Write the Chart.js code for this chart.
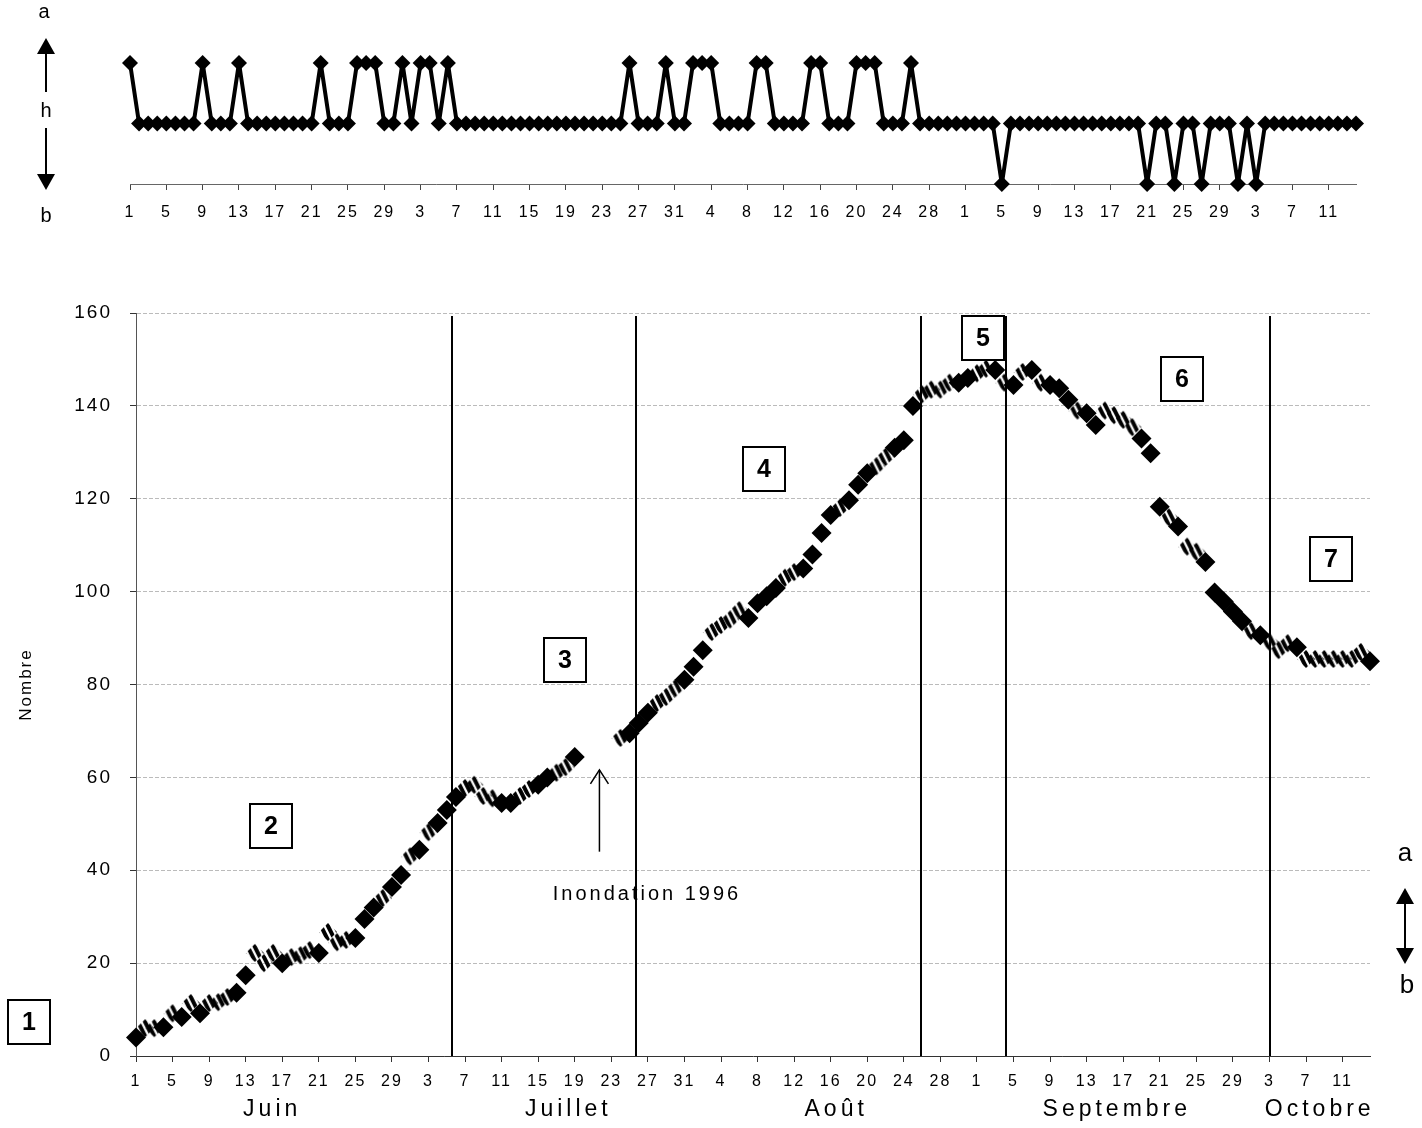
<!DOCTYPE html>
<html>
<head>
<meta charset="utf-8">
<script src="https://cdn.jsdelivr.net/npm/chart.js@4/dist/chart.umd.min.js"></script>
<style>
html, body { margin: 0; padding: 0; background: #fff; }
#wrap { position: relative; width: 1422px; height: 1128px; }
canvas { position: absolute; left: 0; top: 0; }
</style>
</head>
<body>
<div id="wrap">
  <canvas id="bas" width="1422" height="1128"></canvas>
  <canvas id="haut" width="1422" height="240"></canvas>
</div>
<script>
// jours : index 0 = 1 juin ... 135 = 14 octobre
var tickLabels = ['1','5','9','13','17','21','25','29','3','7','11','15','19','23','27','31',
                  '4','8','12','16','20','24','28','1','5','9','13','17','21','25','29','3','7','11'];
var mois = ['Juin', 'Juillet', 'Août', 'Septembre', 'Octobre'];

// etat journalier : 1 = a, 0 = h, -1 = b
var etat = [
  1,0,0,0,0,0,0,0,1,0,
  0,0,1,0,0,0,0,0,0,0,
  0,1,0,0,0,1,1,1,0,0,
  1,0,1,1,0,1,0,0,0,0,
  0,0,0,0,0,0,0,0,0,0,
  0,0,0,0,0,1,0,0,0,1,
  0,0,1,1,1,0,0,0,0,1,
  1,0,0,0,0,1,1,0,0,0,
  1,1,1,0,0,0,1,0,0,0,
  0,0,0,0,0,0,-1,0,0,0,
  0,0,0,0,0,0,0,0,0,0,
  0,0,-1,0,0,-1,0,0,-1,0,
  0,0,-1,0,-1,0,0,0,0,0,
  0,0,0,0,0,0
];

// nombre journalier
var nombre = [
  4, 6, 6, 6.2, 9.2, 8.4, 11.4, 9.2, 11.4, 11.6,
  12.7, 13.6, 17.4, 22.2, 20, 22.2, 20, 21.3, 21.7, 22.8,
  22.2, 26.7, 24.5, 25, 25.4, 29.5, 32, 34, 36.4, 39,
  43, 44.4, 48.2, 50.2, 53, 55.8, 57.7, 58.4, 56, 55.5,
  54.5, 54.5, 56, 57.5, 58.4, 60, 61, 62.2, 64.4, null,
  null, null, null, 68.5, 69.5, 71.7, 73.9, 76, 77.3, 79.2,
  81, 83.8, 87.4, 91.3, 92.8, 94, 96, 94.3, 97.5, 99,
  100.8, 103, 104.2, 105, 108, 112.6, 116.5, 118, 119.7, 123,
  125.5, 127, 129, 131, 132.6, 140, 142.5, 143.5, 143.5, 145,
  145, 146, 147, 148, 147.7, 145, 144.5, 147.3, 147.7, 145,
  144.5, 143.8, 141.3, 139, 138.4, 135.9, 139, 138, 137, 135.4,
  133, 129.8, 118.3, 116, 114, 109.7, 108.6, 106.4, 99.8, 97.9,
  95.7, 93.6, 91.5, 90.6, 89.2, 87.4, 88.9, 88, 85.5, 85.5,
  85.5, 85.5, 85.5, 85.5, 87, 85
];

// jours dont le marqueur est hachuré
var joursHachures = [1,2,4,6,8,9,10,13,14,15,17,18,19,21,22,23,27,30,32,36,37,38,39,42,43,46,47,
  53,57,58,59,63,64,65,66,71,72,77,81,82,86,87,88,89,92,93,95,97,99,103,106,107,108,109,
  113,115,116,122,124,125,126,128,129,130,131,132,133,134];

// limites des periodes (en jours)
var limites = [34.6, 54.7, 85.9, 95.2, 124.1];

var FONT = "'Liberation Sans', Arial, sans-serif";

var ptsPleins = [], ptsHachures = [], ptsEtat = [];
for (var i = 0; i < nombre.length; i++) {
  if (nombre[i] === null) continue;
  if (joursHachures.indexOf(i) >= 0) ptsHachures.push({x: i, y: nombre[i]});
  else ptsPleins.push({x: i, y: nombre[i]});
}
for (var j = 0; j < etat.length; j++) ptsEtat.push({x: j, y: etat[j]});

function motifHachure() {
  var c = document.createElement('canvas');
  c.width = 20; c.height = 20;
  var g = c.getContext('2d');
  g.beginPath();
  g.moveTo(10, 1); g.lineTo(19, 10); g.lineTo(10, 19); g.lineTo(1, 10); g.closePath();
  g.clip();
  g.strokeStyle = '#000';
  g.lineWidth = 4;
  for (var k = -20; k < 40; k += 7) {
    g.beginPath(); g.moveTo(k, 0); g.lineTo(k + 10, 20); g.stroke();
  }
  return c;
}

function ticksFixes(scale) {
  scale.ticks = tickLabels.map(function (t, n) { return {value: n * 4}; });
}
function labelTick(v) {
  return tickLabels[Math.round(v / 4)];
}

function texte(ctx, s, x, y, font, spacing, align) {
  ctx.save();
  ctx.font = font;
  ctx.letterSpacing = spacing || '0px';
  ctx.fillStyle = '#000';
  ctx.textAlign = align || 'center';
  ctx.textBaseline = 'middle';
  ctx.fillText(s, x, y);
  ctx.restore();
}

function fleche(ctx, x, y1, y2, haut, bas) {
  ctx.save();
  ctx.strokeStyle = '#000'; ctx.fillStyle = '#000'; ctx.lineWidth = 2;
  ctx.beginPath(); ctx.moveTo(x, y1); ctx.lineTo(x, y2); ctx.stroke();
  if (haut) {
    ctx.beginPath(); ctx.moveTo(x, y1 - 14); ctx.lineTo(x - 9, y1 + 2); ctx.lineTo(x + 9, y1 + 2); ctx.closePath(); ctx.fill();
  }
  if (bas) {
    ctx.beginPath(); ctx.moveTo(x, y2 + 14); ctx.lineTo(x - 9, y2 - 2); ctx.lineTo(x + 9, y2 - 2); ctx.closePath(); ctx.fill();
  }
  ctx.restore();
}

function boite(ctx, s, cx, cy) {
  ctx.save();
  ctx.fillStyle = '#fff';
  ctx.fillRect(cx - 21, cy - 22, 42, 44);
  ctx.strokeStyle = '#000'; ctx.lineWidth = 2;
  ctx.strokeRect(cx - 21, cy - 22, 42, 44);
  ctx.restore();
  texte(ctx, s, cx, cy + 1, 'bold 25px ' + FONT);
}

var espacement = {
  id: 'espacement',
  beforeDraw: function (chart) { chart.ctx.letterSpacing = '2px'; }
};

// graphique du haut : a / h / b
var decorHaut = {
  id: 'decorHaut',
  afterDraw: function (chart) {
    var ctx = chart.ctx;
    texte(ctx, 'a', 44, 12, '20px ' + FONT);
    fleche(ctx, 46, 52, 92, true, false);
    texte(ctx, 'h', 46, 111, '20px ' + FONT);
    fleche(ctx, 46, 128, 176, false, true);
    texte(ctx, 'b', 46, 216, '20px ' + FONT);
  }
};

new Chart(document.getElementById('haut'), {
  type: 'line',
  data: {
    datasets: [{
      data: ptsEtat,
      borderColor: '#000',
      borderWidth: 4,
      borderJoinStyle: 'round',
      backgroundColor: '#000',
      pointStyle: 'rectRot',
      pointRadius: 8,
      pointBorderWidth: 0,
      tension: 0,
      clip: false
    }]
  },
  options: {
    responsive: false,
    animation: false,
    events: [],
    layout: { padding: { top: 63, left: 130, right: 66, bottom: 0 } },
    plugins: { legend: { display: false }, tooltip: { enabled: false } },
    scales: {
      x: {
        type: 'linear', min: 0, max: 135,
        afterFit: function (s) { s.height = 56; },
        afterBuildTicks: ticksFixes,
        grid: { drawOnChartArea: false, tickLength: 6, color: '#444' },
        border: { color: '#666', dash: [3, 3] },
        ticks: { color: '#000', font: { family: FONT, size: 16 }, padding: 13, maxRotation: 0, autoSkip: false, callback: labelTick }
      },
      y: { display: false, min: -1, max: 1 }
    }
  },
  plugins: [espacement, decorHaut]
});

// graphique du bas : nombre
var decorBas = {
  id: 'decorBas',
  beforeDatasetsDraw: function (chart) {
    var ctx = chart.ctx, xs = chart.scales.x, a = chart.chartArea;
    ctx.save();
    ctx.strokeStyle = '#000'; ctx.lineWidth = 2;
    limites.forEach(function (d) {
      var px = Math.round(xs.getPixelForValue(d));
      ctx.beginPath(); ctx.moveTo(px, a.top + 3); ctx.lineTo(px, a.bottom); ctx.stroke();
    });
    ctx.restore();
  },
  afterDraw: function (chart) {
    var ctx = chart.ctx, xs = chart.scales.x, ys = chart.scales.y;
    // mois
    var centres = [14.9, 47.3, 76.6, 107.3, 129.5];
    mois.forEach(function (m, n) {
      texte(ctx, m, xs.getPixelForValue(centres[n]), 1110, '23px ' + FONT, '4px');
    });
    // inondation
    var fx = xs.getPixelForValue(50.7), fy1 = ys.getPixelForValue(61.6), fy2 = ys.getPixelForValue(44);
    ctx.save();
    ctx.strokeStyle = '#000'; ctx.lineWidth = 1.5;
    ctx.beginPath(); ctx.moveTo(fx, fy2); ctx.lineTo(fx, fy1); ctx.stroke();
    ctx.beginPath(); ctx.moveTo(fx - 9, fy1 + 14); ctx.lineTo(fx, fy1); ctx.lineTo(fx + 9, fy1 + 14); ctx.stroke();
    ctx.restore();
    texte(ctx, 'Inondation 1996', xs.getPixelForValue(55.9), ys.getPixelForValue(34.7), '20px ' + FONT, '3px');
    // periodes
    boite(ctx, '1', 29, 1022);
    boite(ctx, '2', 271, 826);
    boite(ctx, '3', 565, 660);
    boite(ctx, '4', 764, 469);
    boite(ctx, '5', 983, 338);
    boite(ctx, '6', 1182, 379);
    boite(ctx, '7', 1331, 559);
    // a / b a droite
    texte(ctx, 'a', 1405, 854, '26px ' + FONT);
    fleche(ctx, 1405, 902, 950, true, true);
    texte(ctx, 'b', 1407, 986, '26px ' + FONT);
  }
};

new Chart(document.getElementById('bas'), {
  type: 'scatter',
  data: {
    datasets: [{
      data: ptsHachures,
      pointStyle: motifHachure(),
      pointRadius: 10,
      showLine: false,
      clip: false
    }, {
      data: ptsPleins,
      pointStyle: 'rectRot',
      pointRadius: 10,
      backgroundColor: '#000',
      borderWidth: 0,
      showLine: false,
      clip: false
    }]
  },
  options: {
    responsive: false,
    animation: false,
    events: [],
    layout: { padding: { top: 313, left: 0, right: 52, bottom: 0 } },
    plugins: { legend: { display: false }, tooltip: { enabled: false } },
    scales: {
      x: {
        type: 'linear', min: 0, max: 135,
        afterFit: function (s) { s.height = 72; },
        afterBuildTicks: ticksFixes,
        grid: { drawOnChartArea: false, tickLength: 6, color: '#333' },
        border: { color: '#333', dash: [5, 2] },
        ticks: { color: '#000', font: { family: FONT, size: 16 }, padding: 10, maxRotation: 0, autoSkip: false, callback: labelTick }
      },
      y: {
        min: 0, max: 160,
        afterFit: function (s) { s.width = 136; },
        grid: { color: '#bbb', borderDash: [1, 3], tickLength: 6, tickColor: '#333', tickBorderDash: [] },
        border: { color: '#555', dash: [4, 2] },
        ticks: { stepSize: 20, color: '#000', font: { family: FONT, size: 19 }, padding: 18 },
        title: { display: true, text: 'Nombre', color: '#000', font: { family: FONT, size: 17 }, padding: { top: 16, bottom: 0 } }
      }
    }
  },
  plugins: [espacement, decorBas]
});
</script>
</body>
</html>
